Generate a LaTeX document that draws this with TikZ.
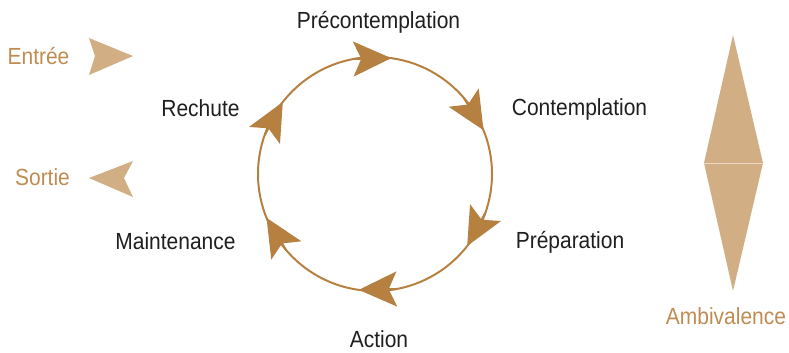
\documentclass[tikz,border=0pt]{standalone}
\usepackage{fontspec}
\newfontfamily\stagefont{Liberation Sans}[FakeStretch=0.9]
\usetikzlibrary{arrows.meta, calc}

\definecolor{cycbrown}{RGB}{181,128,64}
\definecolor{lighttan}{RGB}{209,174,132}
\definecolor{labelbrown}{RGB}{191,140,82}

\begin{document}
\begin{tikzpicture}[x=0.03cm, y=-0.03cm,
    stage/.style={font=\stagefont\fontsize{19.9}{24}\selectfont, text=black!88,
                  anchor=base, inner sep=0pt},
    side/.style={stage, text=labelbrown},
    cyclearrow/.style={-{Stealth[length=1.14cm, width=1.05cm, inset=0.24cm]},
                       draw=cycbrown, fill=cycbrown, line width=1.7pt},
    pointer/.style={fill=lighttan, draw=none}
]
    \useasboundingbox (0,0) rectangle (789,352);

    % Cycle circle
    \coordinate (c) at (375,174);
    \draw[cycbrown, line width=1.7pt] (c) circle[radius=117];

    % Arrowheads along the cycle
    \foreach \ang [count=\i] in {-82,-22,38,98,158,218} {
        \coordinate (tail\i) at ($(c)+(\ang-18.6:117)$);
        \coordinate (head\i) at ($(c)+(\ang:117)$);
        \draw[cyclearrow] (tail\i) -- (head\i);
    }

    % Stages
    \node[stage] (precontemplation) at (378.5,28) {Précontemplation};
    \node[stage] (contemplation) at (579.5,115) {Contemplation};
    \node[stage] (preparation) at (570,248) {Préparation};
    \node[stage] (action) at (379,347) {Action};
    \node[stage] (maintenance) at (175.5,249) {Maintenance};
    \node[stage] (rechute) at (200.5,116.5) {Rechute};

    % Entry and exit
    \node[side] (entree) at (38.5,64.5) {Entrée};
    \fill[pointer] (89,38) -- (133,56) -- (89,75) -- (95,56) -- cycle;
    \node[side] (sortie) at (42.5,185) {Sortie};
    \fill[pointer] (133,161) -- (89,178) -- (133,197) -- (124,178) -- cycle;

    % Ambivalence
    \fill[pointer] (733,35) -- (763,163) -- (704,163) -- cycle;
    \fill[pointer] (704,163) -- (763,163) -- (733,291) -- cycle;
    \draw[white!55!lighttan, line width=0.6pt] (704,163) -- (763,163);
    \node[side] (ambivalence) at (726,324) {Ambivalence};

\end{tikzpicture}
\end{document}
